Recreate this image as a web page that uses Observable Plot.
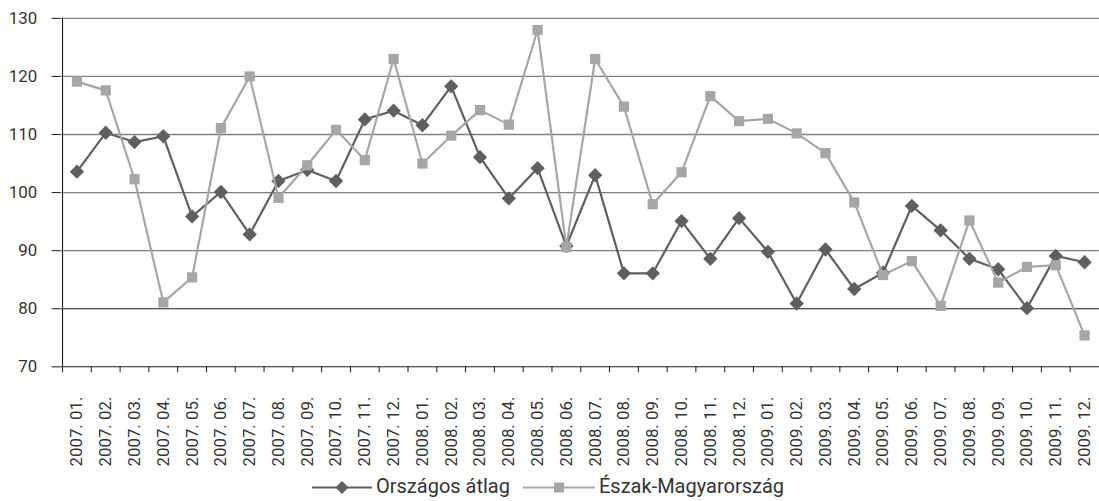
<!DOCTYPE html>
<html><head><meta charset="utf-8">
<script src="https://cdn.jsdelivr.net/npm/d3@7"></script>
<script src="https://cdn.jsdelivr.net/npm/@observablehq/plot@0.6"></script>
<style>
html,body{margin:0;padding:0;background:#fff;overflow:hidden;width:1099px;height:501px}
#chart{position:relative;width:1099px;height:501px;overflow:hidden}
#plotwrap{position:absolute;left:0;top:0}
#plotwrap svg{overflow:visible;display:block}
#legend{position:absolute;left:0;top:474px;height:27px;width:1099px;font-family:Roboto,sans-serif;font-size:20px;color:#333}
.item{position:absolute;top:0;height:27px;display:flex;align-items:center;white-space:nowrap}
.item svg{display:block;flex:none}
.item span{position:relative;top:-2px}
</style></head><body><div id="chart"><div id="plotwrap"></div><div id="legend"></div></div>
<script>
const months = ["2007. 01.","2007. 02.","2007. 03.","2007. 04.","2007. 05.","2007. 06.","2007. 07.","2007. 08.","2007. 09.","2007. 10.","2007. 11.","2007. 12.",
"2008. 01.","2008. 02.","2008. 03.","2008. 04.","2008. 05.","2008. 06.","2008. 07.","2008. 08.","2008. 09.","2008. 10.","2008. 11.","2008. 12.",
"2009. 01.","2009. 02.","2009. 03.","2009. 04.","2009. 05.","2009. 06.","2009. 07.","2009. 08.","2009. 09.","2009. 10.","2009. 11.","2009. 12."];
const orszagos = [103.6,110.3,108.7,109.7,95.9,100.1,92.8,102.0,103.9,102.0,112.6,114.1,111.6,118.3,106.1,99.0,104.2,90.8,103.0,86.1,86.1,95.1,88.6,95.6,89.8,80.9,90.2,83.4,86.2,97.7,93.5,88.6,86.8,80.1,89.1,88.0];
const eszak = [119.1,117.6,102.3,81.1,85.4,111.1,120.0,99.1,104.7,110.8,105.6,123.0,105.0,109.8,114.2,111.7,128.0,90.6,123.0,114.8,98.0,103.5,116.6,112.3,112.7,110.2,106.8,98.3,85.8,88.2,80.5,95.2,84.5,87.2,87.5,75.4];
const yTicks = [70,80,90,100,110,120,130];
const seriesNames = ["Országos átlag","Észak-Magyarország"];
const darkColor = "#5f5f5f", lightColor = "#a6a6a6";

const rowsA = months.map((m,i)=>({m, v: orszagos[i]}));
const rowsB = months.map((m,i)=>({m, v: eszak[i]}));

const W = 1107, ML = 61, MR = 0;
const half = (W-ML-MR)/months.length/2;

const chart = Plot.plot({
  width: W, height: 474,
  marginLeft: ML, marginRight: MR, marginTop: 18, marginBottom: 105,
  x: {type: "point", domain: months, padding: 0.5, label: null},
  y: {domain: [70,130], label: null},
  style: {fontFamily: "Roboto, sans-serif", fontSize: "17px", color: "#333", background: "#fff"},
  marks: [
    Plot.ruleY(yTicks.filter(v => v > 80), {stroke: "#808080", strokeWidth: 1.3}),
    Plot.ruleY([80], {stroke: "#1a1a1a", strokeWidth: 1.1}),
    Plot.ruleY([70], {stroke: "#1a1a1a", strokeWidth: 1.1}),
    Plot.ruleX([months[0]], {dx: -half, y1: 70, y2: 130, stroke: "#1a1a1a", strokeWidth: 1.1}),
    Plot.axisY({ticks: yTicks, tickSize: 9, tickPadding: 15, stroke: "#1a1a1a", fontSize: 17}),
    Plot.axisX({ticks: months, tickSize: 6, tickFormat: () => "", dx: -half, stroke: "#1a1a1a"}),
    Plot.axisX({ticks: months, tickSize: 0, tickPadding: 30, tickRotate: -90, fontSize: 17}),
    Plot.line(rowsA, {x: "m", y: "v", stroke: darkColor, strokeWidth: 2.2}),
    Plot.dot(rowsA, {x: "m", y: "v", symbol: "diamond2", r: 6.5, fill: darkColor, stroke: "none"}),
    Plot.line(rowsB, {x: "m", y: "v", stroke: lightColor, strokeWidth: 2.2}),
    Plot.dot(rowsB, {x: "m", y: "v", symbol: "square", r: 5.8, fill: lightColor, stroke: "none"})
  ]
});
document.getElementById("plotwrap").appendChild(chart);

const legend = document.getElementById("legend");
const items = [
  {name: seriesNames[0], left: 312, w: 60, color: darkColor, sym: "diamond"},
  {name: seriesNames[1], left: 523, w: 72, color: lightColor, sym: "square"}
];
for (const it of items) {
  const div = document.createElement("div");
  div.className = "item";
  div.style.left = it.left + "px";
  const c = it.w/2;
  const shape = it.sym === "diamond"
    ? `<path d="M${c},${13.5-6.5} L${c+6.5},13.5 L${c},${13.5+6.5} L${c-6.5},13.5Z" fill="${it.color}"/>`
    : `<rect x="${c-5}" y="8.5" width="10" height="10" fill="${it.color}"/>`;
  div.innerHTML = `<svg width="${it.w}" height="27"><line x1="0" x2="${it.w}" y1="13.5" y2="13.5" stroke="${it.color}" stroke-width="2"/>${shape}</svg><span style="margin-left:4px">${it.name}</span>`;
  legend.appendChild(div);
}
</script>
</body></html>
